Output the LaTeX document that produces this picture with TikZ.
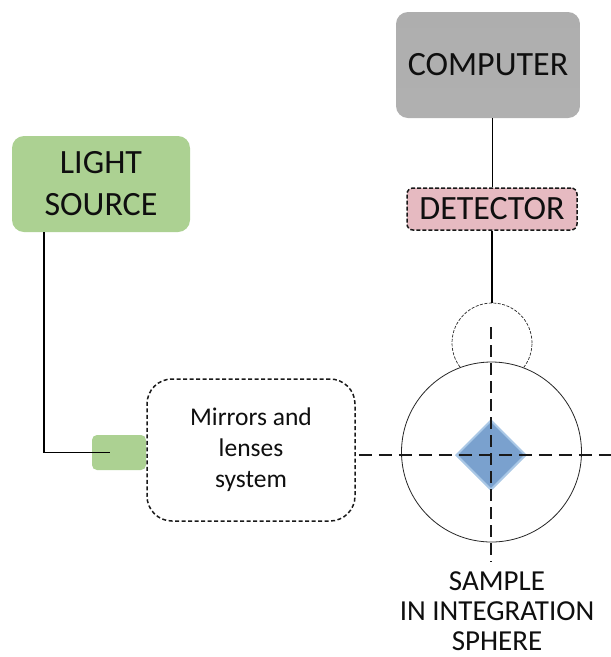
\documentclass[tikz,border=0pt]{standalone}
\usepackage{fontspec}
\setmainfont{Carlito}
\usetikzlibrary{shapes.geometric,calc}
\definecolor{compgray}{RGB}{160,160,160}
\definecolor{detpink}{RGB}{230,186,193}
\definecolor{lsgreen}{RGB}{172,209,146}
\definecolor{sampblue}{RGB}{122,161,206}
\definecolor{sampedge}{RGB}{170,200,230}
\definecolor{txt}{RGB}{15,15,15}
\tikzset{
  bigtext/.style={font=\fontsize{34}{42}\selectfont, text=txt, align=center, inner sep=0pt},
  comptbox/.style={rounded corners=12pt, top color=compgray!85, bottom color=compgray!110!black, draw=none, bigtext},
  detbox/.style={rounded corners=6pt, fill=detpink, draw=black!90, line width=1.5pt, dash pattern=on 4pt off 2pt, bigtext},
  lsbox/.style={rounded corners=12pt, fill=lsgreen, draw=none, bigtext},
  smallgreen/.style={rounded corners=5pt, fill=lsgreen, draw=none},
  mirbox/.style={rounded corners=25pt, draw=black!90, line width=1.5pt, dash pattern=on 4pt off 2.5pt, font=\fontsize{25.5}{31}\selectfont, text=txt, align=center},
  wire/.style={draw=black, line width=1pt},
  thickwire/.style={draw=black, line width=2pt},
  axisline/.style={draw=black!90, line width=1.6pt, dash pattern=on 13pt off 7pt},
  vaxis/.style={draw=black!90, line width=1.2pt, dash pattern=on 12pt off 6pt},
}
\begin{document}
\begin{tikzpicture}[x=1pt,y=-1pt]
\useasboundingbox[fill=white] (0,0) rectangle (611,657);
% boxes
\node[comptbox, minimum width=184pt, minimum height=106pt] (comp) at (488,65) {COMPUTER};
\node[detbox, minimum width=170pt, minimum height=42pt] (det) at (492,209) {DETECTOR};
\node[lsbox, minimum width=178pt, minimum height=96pt] (ls) at (101,184) {LIGHT\\SOURCE};
\node[smallgreen, minimum width=54pt, minimum height=35pt] (gb) at (119,452.5) {};
\node[mirbox, minimum width=208pt, minimum height=142pt] (mir) at (251,450) {Mirrors and\\lenses\\system};
% sphere
\node[circle, draw=black!85, line width=0.7pt, dash pattern=on 3pt off 1.5pt, minimum size=80pt, inner sep=0pt] (sc) at (492,343) {};
\node[circle, draw=black!85, line width=0.8pt, fill=white, minimum size=180pt, inner sep=0pt] (bc) at (491.5,452) {};
\node[diamond, draw=sampedge, line width=2pt, fill=sampblue, minimum width=70pt, minimum height=70pt, inner sep=0pt] (samp) at (491,455) {};
\node[bigtext, font=\fontsize{29}{30}\selectfont] (slabel) at (497,611) {SAMPLE\\IN INTEGRATION\\SPHERE};
% axis coordinates
\coordinate (vtop) at (491,327);
\coordinate (vbot) at (491,562);
\coordinate (hend) at (611,455);
% connectors
\draw[wire] (comp.south -| det.north) -- (det.north);
\draw[thickwire] (det.south) -- (sc.north);
\draw[wire, line width=1.6pt] ([xshift=32pt]ls.south west) |- ([xshift=-9pt]gb.center);
\draw[vaxis] (vtop) -- (vbot);
\draw[axisline] ([xshift=3pt]mir.east |- hend) -- (hend);
\end{tikzpicture}
\end{document}
